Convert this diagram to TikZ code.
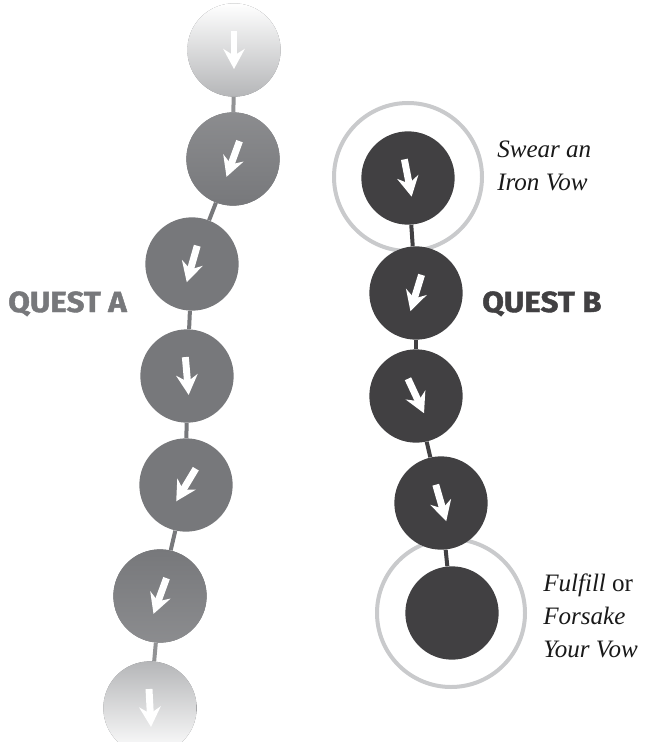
\documentclass[tikz,border=0pt]{standalone}
\usepackage{fontspec}
\setmainfont{Liberation Serif}
\newfontfamily\questfont[BoldFeatures={FakeBold=1.5, FakeStretch=1.08}]{Fira Sans}
\usetikzlibrary{arrows.meta}
\definecolor{questgray}{HTML}{77787B}
\definecolor{questdark}{HTML}{414042}
\definecolor{halogray}{HTML}{C9CACC}
\definecolor{fadegray}{HTML}{B5B6B8}
\def\vowarrow#1#2{\draw[vow arrow] (#1.center) ++(#2:-19) -- ++(#2:38);}

\begin{document}
\begin{tikzpicture}[x=0.75pt, y=-0.75pt,
                      quest a/.style = {circle, inner sep=0pt, minimum size=70pt,
                        fill=questgray},
                      quest b/.style = {circle, inner sep=0pt, minimum size=70pt,
                        fill=questdark},
                      halo/.style = {circle, inner sep=0pt, minimum size=111pt,
                        draw=halogray, line width=3pt},
                      link a/.style = {draw=questgray, line width=3pt},
                      link b/.style = {draw=questdark, line width=3pt},
                      vow arrow/.style = {white, line width=5.2pt,
                        -{Stealth[length=15pt, width=16pt, inset=5pt]}},
                      quest text/.style = {anchor=base west, inner sep=0pt,
                        font=\questfont\bfseries\fontsize{21.8pt}{24pt}\selectfont},
                      vow text/.style = {anchor=base west, inner sep=0pt, align=left,
                        text=black!90, font=\fontsize{18.8pt}{24.5pt}\selectfont}]
  \useasboundingbox (0,0) rectangle (646,742);
  % quest a
  \node[quest a, top color=white, bottom color=fadegray] (a1) at (234,50) {};
  \node[quest a, top color=questgray!85, bottom color=questgray] (a2) at (233,159) {};
  \node[quest a] (a3) at (192,264) {};
  \node[quest a] (a4) at (187,376) {};
  \node[quest a] (a5) at (186,485) {};
  \node[quest a, top color=questgray, bottom color=questgray!85] (a6) at (160,596) {};
  \node[quest a, top color=fadegray, bottom color=white] (a7) at (150,708) {};
  \draw[link a, draw=questgray!80] (a1) -- (a2);
  \draw[link a] (a2) -- (a3);
  \draw[link a] (a3) -- (a4);
  \draw[link a] (a4) -- (a5);
  \draw[link a] (a5) -- (a6);
  \draw[link a, draw=questgray!80] (a6) -- (a7);
  \vowarrow{a1}{90}
  \vowarrow{a2}{110}
  \vowarrow{a3}{106}
  \vowarrow{a4}{85}
  \vowarrow{a5}{121}
  \vowarrow{a6}{110}
  \vowarrow{a7}{87}
  \node[quest text, text=questgray] (quest a) at (8,312) {QUEST A};
  % quest b
  \node[halo] (h1) at (408,177) {};
  \node[halo] (h5) at (451,613) {};
  \node[quest b] (b1) at (408,178) {};
  \node[quest b] (b2) at (416,293) {};
  \node[quest b] (b3) at (416,396) {};
  \node[quest b] (b4) at (441,503) {};
  \node[quest b] (b5) at (452,613) {};
  \draw[link b] (b1) -- (b2);
  \draw[link b] (b2) -- (b3);
  \draw[link b] (b3) -- (b4);
  \draw[link b] (b4) -- (b5);
  \vowarrow{b1}{79}
  \vowarrow{b2}{107}
  \vowarrow{b3}{65}
  \vowarrow{b4}{74}
  \node[quest text, text=questdark] (quest b) at (482,312) {QUEST B};
  \node[vow text] (swear) at (497,190) {\textit{Swear an}\\\textit{Iron Vow}};
  \node[vow text] (fulfill) at (543,657) {\textit{Fulfill} or\\\textit{Forsake}\\\textit{Your Vow}};
\end{tikzpicture}
\end{document}
